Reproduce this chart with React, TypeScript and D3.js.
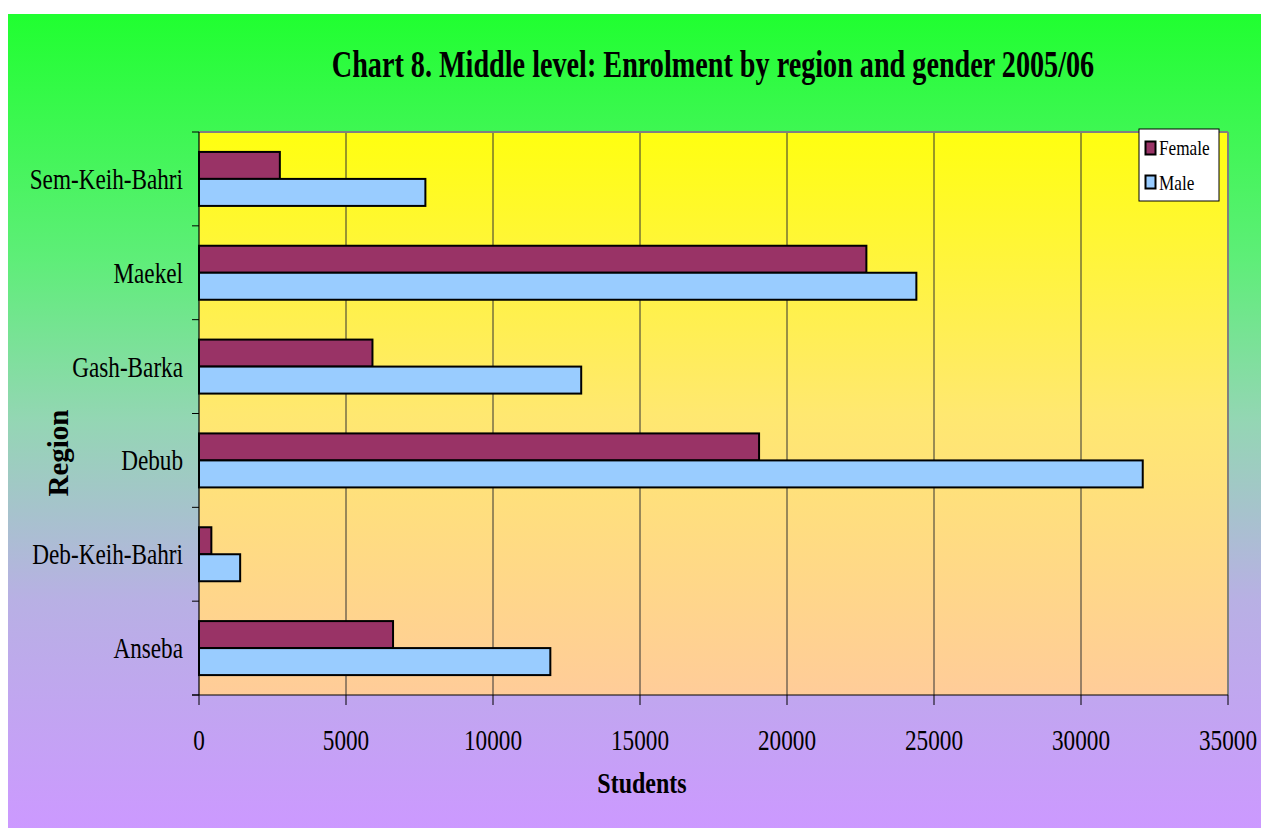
import React from "react";
import * as d3 from "d3";

const regions = ["Sem-Keih-Bahri", "Maekel", "Gash-Barka", "Debub", "Deb-Keih-Bahri", "Anseba"];
const female = [2750, 22700, 5900, 19050, 420, 6600];
const male = [7700, 24400, 13000, 32100, 1400, 11950];
const seriesNames = ["Female", "Male"];
const seriesColors = ["#993366", "#99CCFF"];
const xTicks = [0, 5000, 10000, 15000, 20000, 25000, 30000, 35000];

const W = 1261;
const H = 828;
const plot = { left: 199, right: 1228, top: 132, bottom: 695 };
const SX = 0.8;
const FONT = "'Liberation Serif', 'Times New Roman', serif";

export default function App() {
  const x = d3.scaleLinear().domain([0, 35000]).range([plot.left, plot.right]);
  const y = d3
    .scaleBand<string>()
    .domain(regions)
    .range([plot.top, plot.bottom])
    .paddingInner(0.4245)
    .paddingOuter(0.21225);
  const inner = d3.scaleBand<string>().domain(seriesNames).range([0, y.bandwidth()]);
  const step = y.step();
  const values = [female, male];

  const bars: JSX.Element[] = [];
  regions.forEach((r, i) => {
    values.forEach((vals, s) => {
      const v = vals[i];
      bars.push(
        <rect
          key={r + s}
          x={x(0)}
          y={(y(r) as number) + (inner(seriesNames[s]) as number)}
          width={x(v) - x(0)}
          height={inner.bandwidth()}
          fill={seriesColors[s]}
          stroke="#000"
          strokeWidth={2}
        />
      );
    });
  });

  const bandEdges = d3.range(regions.length + 1).map((k) => plot.top + k * step);

  return (
    <svg
      width={W}
      height={H}
      style={{ position: "absolute", left: 0, top: 0, display: "block" }}
      fontFamily={FONT}
    >
      <defs>
        <linearGradient id="outerBg" x1="0" y1="0" x2="0" y2="1">
          <stop offset="0" stopColor="#20FF30" />
          <stop offset="0.3" stopColor="#5EEE78" />
          <stop offset="0.5" stopColor="#94D6B4" />
          <stop offset="0.72" stopColor="#B8B0E4" />
          <stop offset="1" stopColor="#CC99FF" />
        </linearGradient>
        <linearGradient id="plotBg" x1="0" y1="0" x2="0" y2="1">
          <stop offset="0" stopColor="#FFFF10" />
          <stop offset="0.5" stopColor="#FFE870" />
          <stop offset="1" stopColor="#FFCC99" />
        </linearGradient>
      </defs>
      <rect x={8} y={14} width={W - 8} height={H - 14} fill="url(#outerBg)" />

      <rect
        x={plot.left}
        y={plot.top}
        width={plot.right - plot.left}
        height={plot.bottom - plot.top}
        fill="url(#plotBg)"
      />
      {/* gridlines */}
      {xTicks.slice(1, -1).map((t) => (
        <line key={"g" + t} x1={x(t)} x2={x(t)} y1={plot.top} y2={plot.bottom} stroke="#333" strokeWidth={1} />
      ))}
      {/* top and right border */}
      <line x1={plot.left} x2={plot.right} y1={plot.top} y2={plot.top} stroke="#808080" strokeWidth={2} />
      <line x1={plot.right} x2={plot.right} y1={plot.top} y2={plot.bottom} stroke="#808080" strokeWidth={2} />

      {bars}

      {/* axes */}
      <line x1={plot.left} x2={plot.left} y1={plot.top} y2={plot.bottom} stroke="#000" strokeWidth={1.2} />
      <line x1={plot.left - 7} x2={plot.right} y1={plot.bottom} y2={plot.bottom} stroke="#000" strokeWidth={1.2} />
      {bandEdges.map((e, k) => (
        <line key={"yt" + k} x1={plot.left - 7} x2={plot.left} y1={e} y2={e} stroke="#000" strokeWidth={1} />
      ))}
      {xTicks.map((t) => (
        <line key={"xt" + t} x1={x(t)} x2={x(t)} y1={plot.bottom} y2={plot.bottom + 10} stroke="#000" strokeWidth={1} />
      ))}

      {/* x tick labels */}
      {xTicks.map((t) => (
        <text
          key={"xl" + t}
          transform={`translate(${x(t)},750) scale(${SX},1)`}
          textAnchor="middle"
          fontSize={29}
          fill="#000"
        >
          {String(t)}
        </text>
      ))}

      {/* category labels */}
      {regions.map((r) => (
        <text
          key={"yl" + r}
          transform={`translate(183,${(y(r) as number) + y.bandwidth() / 2 + 10}) scale(${SX},1)`}
          textAnchor="end"
          fontSize={29}
          fill="#000"
        >
          {r}
        </text>
      ))}

      {/* title */}
      <text
        transform="translate(713,77) scale(0.762,1)"
        textAnchor="middle"
        fontSize={37}
        fontWeight="bold"
        fill="#000"
      >
        Chart 8. Middle level: Enrolment by region and gender 2005/06
      </text>

      {/* axis titles */}
      <text
        transform={`translate(642,793) scale(${SX},1)`}
        textAnchor="middle"
        fontSize={30}
        fontWeight="bold"
        fill="#000"
      >
        Students
      </text>
      <text
        transform={`translate(68,453) rotate(-90)`}
        textAnchor="middle"
        fontSize={29}
        fontWeight="bold"
        fill="#000"
      >
        Region
      </text>

      {/* legend */}
      <rect x={1139} y={129} width={80} height={72} fill="#fff" stroke="#000" strokeWidth={1} />
      {seriesNames.map((n, s) => (
        <g key={"lg" + n}>
          <rect
            x={1145.5}
            y={141.5 + s * 34}
            width={10}
            height={13}
            fill={seriesColors[s]}
            stroke="#000"
            strokeWidth={2}
          />
          <text
            transform={`translate(1159,${155 + s * 35}) scale(0.82,1)`}
            fontSize={21}
            fill="#000"
          >
            {n}
          </text>
        </g>
      ))}
    </svg>
  );
}
